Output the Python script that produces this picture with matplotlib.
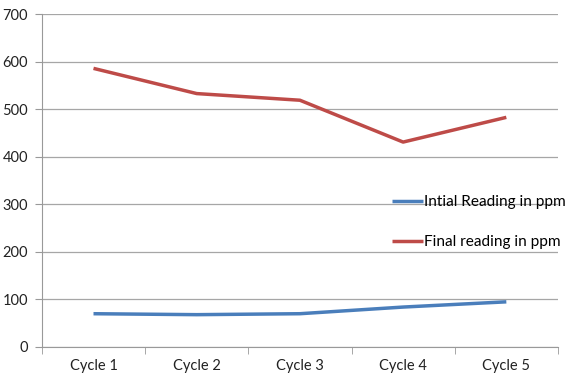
import matplotlib
matplotlib.use("Agg")
import matplotlib.pyplot as plt

# data
cycles = ["Cycle 1", "Cycle 2", "Cycle 3", "Cycle 4", "Cycle 5"]
initial = [70, 68, 70, 84, 95]
final = [586, 533, 519, 431, 483]

plt.rcParams["font.family"] = ["Lato", "DejaVu Sans"]

fig = plt.figure(figsize=(5.74, 3.83), dpi=100)
ax = fig.add_axes([0.073, 0.094, 0.899, 0.869])

x = list(range(len(cycles)))
ax.plot(x, initial, color="#4a7ebb", lw=2.5, label="Intial Reading in ppm", solid_capstyle="butt")
ax.plot(x, final, color="#be4b48", lw=2.5, label="Final reading in ppm", solid_capstyle="butt")

ax.set_xlim(-0.5, len(cycles) - 0.5)
ax.set_ylim(0, 700)
ax.set_yticks(range(0, 701, 100))
ax.set_xticks(x)
ax.set_xticklabels(cycles)
ax.set_xticks([i - 0.5 for i in range(len(cycles) + 1)], minor=True)
ax.tick_params(axis="x", which="major", length=0, pad=9, labelsize=10.5, colors="#222222")
ax.tick_params(axis="x", which="minor", length=5, color="#999999", direction="out")
ax.tick_params(axis="y", length=5, color="#999999", pad=5, labelsize=10.5, labelcolor="#222222")

ax.grid(axis="y", color="#a6a6a6", lw=0.9)
ax.set_axisbelow(True)
for s in ["top", "right"]:
    ax.spines[s].set_visible(False)
ax.spines["left"].set_color("#999999")
ax.spines["bottom"].set_color("#999999")

leg = fig.legend(loc="center left", bbox_to_anchor=(0.683, 0.42), frameon=False,
                 fontsize=11.1, handlelength=2.0, handletextpad=0.1, labelspacing=1.7,
                 borderpad=0, borderaxespad=0)

fig.savefig("out.png", dpi=100)
